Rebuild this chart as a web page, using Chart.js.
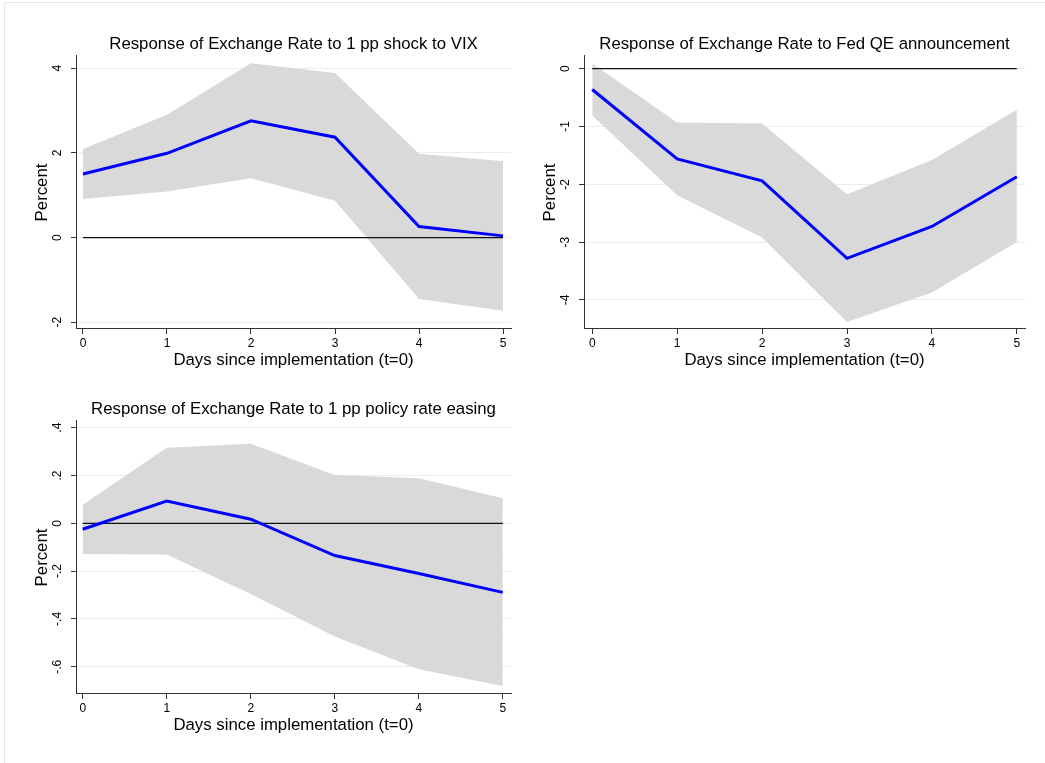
<!DOCTYPE html>
<html>
<head>
<meta charset="utf-8">
<script src="https://cdn.jsdelivr.net/npm/chart.js@4.4.1/dist/chart.umd.min.js"></script>
<style>
  html, body { margin: 0; padding: 0; background: #fff; overflow: hidden; }
  body { width: 1045px; height: 763px; position: relative; }
  #frame { position: absolute; left: 4px; top: 2px; width: 1041px; height: 761px;
           border-top: 1px solid #e2ebeb; border-left: 1px solid #e2ebeb; }
  canvas { position: absolute; }
</style>
</head>
<body>
<div id="frame"></div>
<canvas id="vixChart" width="521" height="345" style="left:0px;top:30px"></canvas>
<canvas id="qeChart" width="527" height="345" style="left:508px;top:30px"></canvas>
<canvas id="rateChart" width="521" height="345" style="left:0px;top:395px"></canvas>
<script>
// horizon (days since implementation)
const days = [0, 1, 2, 3, 4, 5];

// response to 1 pp VIX shock
const vixIrf   = [1.50, 1.99, 2.76, 2.37, 0.26, 0.04];
const vixUpper = [2.09, 2.90, 4.12, 3.89, 1.98, 1.80];
const vixLower = [0.91, 1.09, 1.40, 0.87, -1.45, -1.73];
const vixTicks = [-2, 0, 2, 4];

// response to Fed QE announcement
const qeIrf   = [-0.36, -1.56, -1.94, -3.28, -2.73, -1.87];
const qeUpper = [0.09, -0.93, -0.95, -2.17, -1.58, -0.71];
const qeLower = [-0.81, -2.19, -2.92, -4.38, -3.87, -3.00];
const qeTicks = [-4, -3, -2, -1, 0];

// response to 1 pp policy rate easing
const rateIrf   = [-0.025, 0.093, 0.017, -0.135, -0.21, -0.289];
const rateUpper = [0.078, 0.316, 0.333, 0.202, 0.188, 0.105];
const rateLower = [-0.128, -0.131, -0.296, -0.474, -0.611, -0.681];
const rateTicks = [-0.6, -0.4, -0.2, 0, 0.2, 0.4];

const FONT = "'Liberation Sans', Arial, Helvetica, sans-serif";
const BIG = 16.8;   // titles
const SMALL = 12;   // tick labels

// Stata style numbers: .4, -.2
function stataNum(v) {
    let s = String(Math.round(v * 1000) / 1000);
    return s.replace(/^0\./, '.').replace(/^-0\./, '-.');
}

function pts(ys) {
    return days.map((d, i) => ({ x: d, y: ys[i] }));
}

function makeChart(id, title, irf, upper, lower, yTicks, xr, yr, tickPad) {
    const ctx = document.getElementById(id).getContext('2d');
    return new Chart(ctx, {
        type: 'line',
        data: {
            datasets: [
                { data: pts(irf), borderColor: '#0000ff', borderWidth: 3, pointRadius: 0, fill: false },
                { data: [{ x: days[0], y: 0 }, { x: days[days.length - 1], y: 0 }],
                  borderColor: '#111', borderWidth: 1.2, pointRadius: 0, fill: false },
                { data: pts(upper), borderWidth: 0, borderColor: 'rgba(0,0,0,0)', pointRadius: 0,
                  backgroundColor: '#d9d9d9', fill: '+1' },
                { data: pts(lower), borderWidth: 0, borderColor: 'rgba(0,0,0,0)', pointRadius: 0, fill: false }
            ]
        },
        options: {
            responsive: false,
            animation: false,
            devicePixelRatio: 1,
            layout: { padding: { left: 0, right: 10, top: 0, bottom: 0 } },
            plugins: {
                legend: { display: false },
                tooltip: { enabled: false },
                title: {
                    display: true,
                    text: title,
                    fullSize: false,
                    color: '#000',
                    font: { family: FONT, size: BIG, weight: 'normal' },
                    padding: { top: 3.9, bottom: 1.9 }
                }
            },
            scales: {
                x: {
                    type: 'linear',
                    min: xr[0], max: xr[1],
                    afterBuildTicks: (s) => { s.ticks = days.map(v => ({ value: v })); },
                    afterFit: (s) => { s.height = 46; },
                    grid: { drawOnChartArea: false, tickLength: 5, tickColor: '#333' },
                    border: { color: '#333', width: 1 },
                    ticks: { color: '#000', font: { family: FONT, size: SMALL }, padding: 2,
                             maxRotation: 0, autoSkip: false, callback: (v) => String(v) },
                    title: { display: true, text: 'Days since implementation (t=0)', color: '#000',
                             font: { family: FONT, size: BIG }, padding: { top: 0, bottom: 4.9 } }
                },
                y: {
                    type: 'linear',
                    min: yr[0], max: yr[1],
                    afterBuildTicks: (s) => { s.ticks = yTicks.map(v => ({ value: v })); },
                    afterFit: (s) => { s.width = 76; },
                    grid: { color: '#e6eef0', lineWidth: 1, tickLength: 5, tickColor: '#333' },
                    border: { color: '#333', width: 1 },
                    ticks: { color: '#000', font: { family: FONT, size: SMALL }, padding: tickPad,
                             minRotation: 90, maxRotation: 90, crossAlign: 'center', autoSkip: false,
                             callback: (v) => stataNum(v) },
                    title: { display: true, text: 'Percent', color: '#000',
                             font: { family: FONT, size: BIG }, padding: { top: 31.9, bottom: 0 } }
                }
            }
        }
    });
}

makeChart('vixChart', 'Response of Exchange Rate to 1 pp shock to VIX',
    vixIrf, vixUpper, vixLower, vixTicks, [-0.083, 5.095], [-2.16, 4.29], 8);
makeChart('qeChart', 'Response of Exchange Rate to Fed QE announcement',
    qeIrf, qeUpper, qeLower, qeTicks, [-0.097, 5.096], [-4.503, 0.22], 8);
makeChart('rateChart', 'Response of Exchange Rate to 1 pp policy rate easing',
    rateIrf, rateUpper, rateLower, rateTicks, [-0.08, 5.098], [-0.714, 0.428], 6);
</script>
</body>
</html>
